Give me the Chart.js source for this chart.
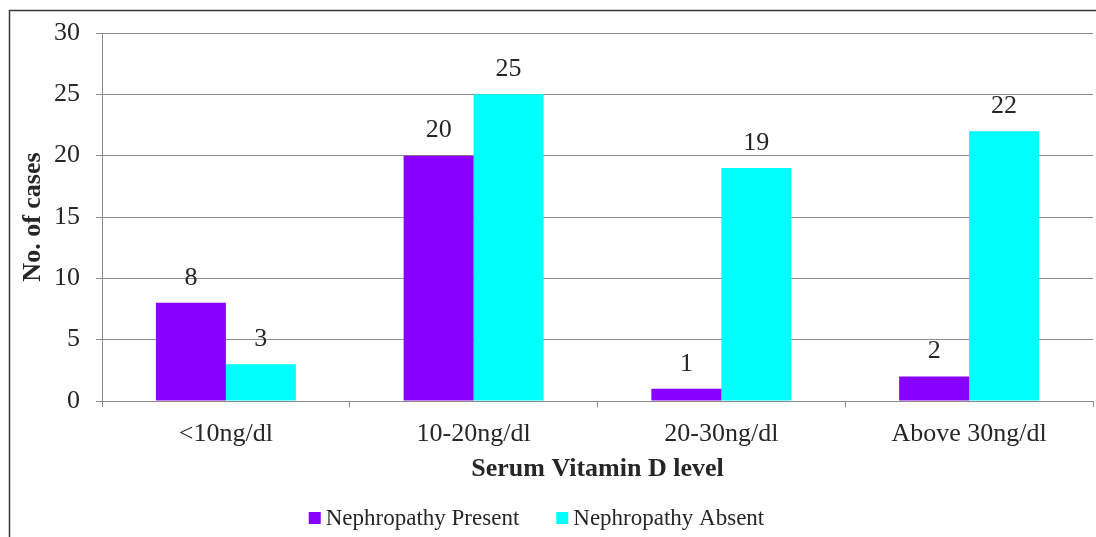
<!DOCTYPE html>
<html>
<head>
<meta charset="utf-8">
<title>Serum Vitamin D level and nephropathy</title>
<script src="https://cdn.jsdelivr.net/npm/chart.js@4.4.1/dist/chart.umd.min.js"></script>
<style>
  html, body { margin: 0; padding: 0; background: #ffffff; }
  #wrap { position: relative; width: 1096px; height: 537px; }
</style>
</head>
<body>
<div id="wrap"><canvas id="chart" width="1096" height="537"></canvas></div>
<script>
// Vitamin D groups and case counts
const categories = ['<10ng/dl', '10-20ng/dl', '20-30ng/dl', 'Above 30ng/dl'];
const nephropathyPresent = [8, 20, 1, 2];
const nephropathyAbsent = [3, 25, 19, 22];
const seriesNames = ['Nephropathy Present', 'Nephropathy Absent'];
const yTicks = [0, 5, 10, 15, 20, 25, 30];

const FONT = "'Liberation Serif', 'Times New Roman', serif";
const TEXT = '#262626';
const GRID = '#8c8c8c';

// Frame lines around the figure
const framePlugin = {
  id: 'frame',
  beforeDraw(chart) {
    const ctx = chart.ctx;
    ctx.save();
    ctx.strokeStyle = '#3a3a3a';
    ctx.lineWidth = 1.5;
    ctx.beginPath();
    ctx.moveTo(9.5, chart.height + 5);
    ctx.lineTo(9.5, 10.5);
    ctx.lineTo(chart.width + 5, 10.5);
    ctx.stroke();
    ctx.restore();
  }
};

// Value printed above each bar
const valueLabels = {
  id: 'valueLabels',
  afterDatasetsDraw(chart) {
    const ctx = chart.ctx;
    ctx.save();
    ctx.font = '26px ' + FONT;
    ctx.fillStyle = TEXT;
    ctx.textAlign = 'center';
    ctx.textBaseline = 'middle';
    chart.data.datasets.forEach((ds, di) => {
      chart.getDatasetMeta(di).data.forEach((bar, i) => {
        ctx.fillText(String(ds.data[i]), bar.x, bar.y - 25);
      });
    });
    ctx.restore();
  }
};

// Legend row under the axis title
const legendRow = {
  id: 'legendRow',
  afterDraw(chart) {
    const ctx = chart.ctx;
    const box = 12, gap = 5, spacing = 37, cy = 518;
    ctx.save();
    ctx.font = '23px ' + FONT;
    ctx.textBaseline = 'middle';
    ctx.textAlign = 'left';
    const items = chart.data.datasets.map(ds => ({
      text: ds.label, color: ds.backgroundColor, w: ctx.measureText(ds.label).width
    }));
    let total = 0;
    items.forEach((it, i) => { total += box + gap + it.w + (i ? spacing : 0); });
    let x = 536.5 - total / 2;
    items.forEach(it => {
      ctx.fillStyle = it.color;
      ctx.fillRect(x, cy - box / 2, box, box);
      ctx.fillStyle = TEXT;
      ctx.fillText(it.text, x + box + gap, cy + 1);
      x += box + gap + it.w + spacing;
    });
    ctx.restore();
  }
};

new Chart(document.getElementById('chart'), {
  type: 'bar',
  data: {
    labels: categories,
    datasets: [
      { label: seriesNames[0], data: nephropathyPresent, backgroundColor: '#8800ff' },
      { label: seriesNames[1], data: nephropathyAbsent, backgroundColor: '#00ffff' }
    ]
  },
  options: {
    responsive: false,
    animation: false,
    devicePixelRatio: 1,
    layout: { padding: { left: 12, right: 3, top: 33, bottom: 40 } },
    datasets: { bar: { categoryPercentage: 0.565, barPercentage: 1.0, borderWidth: 0 } },
    plugins: {
      legend: { display: false },
      tooltip: { enabled: false }
    },
    scales: {
      x: {
        offset: true,
        grid: { display: true, drawOnChartArea: false, drawTicks: true, tickLength: 6, color: GRID },
        border: { display: true, color: GRID, width: 1 },
        ticks: { color: TEXT, font: { family: FONT, size: 26 }, padding: 12, maxRotation: 0 },
        title: {
          display: true, text: 'Serum Vitamin D level', color: TEXT,
          font: { family: FONT, size: 26, weight: 'bold' },
          padding: { top: 0, bottom: 12 }
        },
        afterFit(scale) { scale.height = 96; }
      },
      y: {
        min: 0, max: 30,
        afterBuildTicks(scale) { scale.ticks = yTicks.map(v => ({ value: v })); },
        grid: { color: GRID, lineWidth: 1, tickLength: 6, drawTicks: true },
        border: { display: true, color: GRID, width: 1 },
        ticks: { color: TEXT, font: { family: FONT, size: 26 }, padding: 16 },
        title: {
          display: true, text: 'No. of cases', color: TEXT,
          font: { family: FONT, size: 26, weight: 'bold' },
          padding: { top: 6, bottom: 0 }
        },
        afterFit(scale) { scale.width = 90; }
      }
    }
  },
  plugins: [framePlugin, valueLabels, legendRow]
});
</script>
</body>
</html>
